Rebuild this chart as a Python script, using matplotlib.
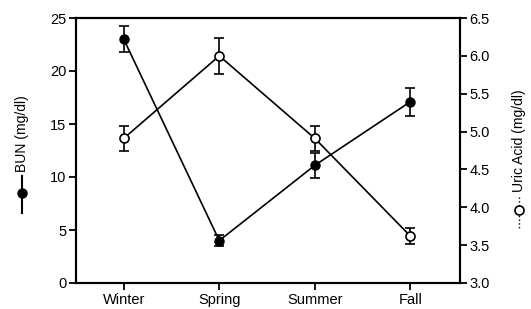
import numpy as np
import matplotlib.pyplot as plt
from matplotlib.lines import Line2D

seasons = ['Winter', 'Spring', 'Summer', 'Fall']
bun = [23.0, 4.0, 11.1, 17.1]
bun_err = [1.2, 0.5, 1.2, 1.3]
uric = [4.91, 6.0, 4.91, 3.62]
uric_err = [0.16, 0.24, 0.16, 0.11]

plt.rcParams['font.family'] = ['Liberation Sans', 'DejaVu Sans']

fig = plt.figure(figsize=(5.31, 3.09), dpi=100)
ax = fig.add_axes([76/531, 1 - 283/309, (460-76)/531, (283-18)/309])
ax2 = ax.twinx()

x = np.arange(len(seasons))

ax.errorbar(x, bun, yerr=bun_err, color='black', marker='o', markersize=6.5,
            markerfacecolor='black', lw=1.2, capsize=3.5, elinewidth=1.2, capthick=1.2)
ax2.errorbar(x, uric, yerr=uric_err, color='black', marker='o', markersize=6.5,
             markerfacecolor='white', markeredgewidth=1.2, lw=1.2, capsize=3.5,
             elinewidth=1.2, capthick=1.2)

ax.set_xlim(-0.5, 3.52)
ax.set_ylim(0, 25)
ax.set_yticks([0, 5, 10, 15, 20, 25])
ax2.set_ylim(3.0, 6.5)
ax2.set_yticks(np.arange(3.0, 6.51, 0.5))
ax2.set_yticklabels(['%.1f' % v for v in np.arange(3.0, 6.51, 0.5)])
ax.set_xticks(x)
ax.set_xticklabels(seasons)

for a in (ax, ax2):
    for s in a.spines.values():
        s.set_linewidth(1.5)
    a.tick_params(direction='out', length=5, width=1.3, labelsize=10.5, pad=2)

# axis labels with legend glyphs
fig.text(22/531, 1 - 172/309, 'BUN (mg/dl)', rotation=90, ha='center', va='bottom', fontsize=10)
fig.add_artist(Line2D([22/531, 22/531], [1 - 176/309, 1 - 213/309], color='black', lw=1.5))
fig.add_artist(Line2D([22/531], [1 - 193/309], marker='o', color='black', markersize=6.5))

fig.text(519/531, 1 - 192/309, 'Uric Acid (mg/dl)', rotation=90, ha='center', va='bottom', fontsize=10)
fig.add_artist(Line2D([519/531, 519/531], [1 - 197/309, 1 - 228/309], color='black', lw=1, ls=':'))
fig.add_artist(Line2D([519/531], [1 - 210/309], marker='o', color='black',
                      markerfacecolor='white', markersize=6.5, markeredgewidth=1.2))

plt.savefig('out.png', dpi=100)
